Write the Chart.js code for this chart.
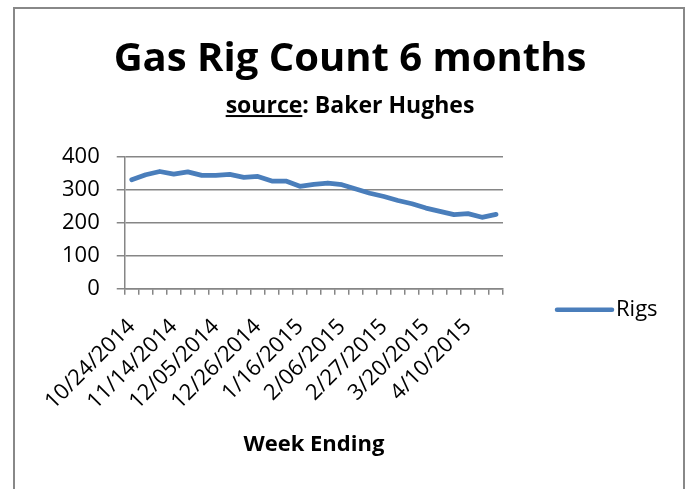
<!DOCTYPE html>
<html>
<head>
<meta charset="utf-8">
<script src="https://cdn.jsdelivr.net/npm/chart.js@4/dist/chart.umd.min.js"></script>
<style>
  html, body { margin: 0; padding: 0; background: #ffffff; }
  #wrap { position: relative; width: 688px; height: 489px; overflow: hidden; }
  #frame { position: absolute; left: 13px; top: 7px; width: 672px; height: 520px; border: 2px solid #888888; box-sizing: border-box; }
  canvas { position: absolute; left: 0; top: 0; }
</style>
</head>
<body>
<div id="wrap">
  <div id="frame"></div>
  <canvas id="c" width="688" height="489"></canvas>
</div>
<script>
const chartTitle = "Gas Rig Count 6 months";
const subtitleSource = "source";
const subtitleRest = ": Baker Hughes";
const xAxisTitle = "Week Ending";
const seriesName = "Rigs";

const weekEnding = [
  "10/24/2014", "10/31/2014", "11/07/2014", "11/14/2014", "11/21/2014", "11/28/2014",
  "12/05/2014", "12/12/2014", "12/19/2014", "12/26/2014", "1/02/2015", "1/09/2015",
  "1/16/2015", "1/23/2015", "1/30/2015", "2/06/2015", "2/13/2015", "2/20/2015",
  "2/27/2015", "3/06/2015", "3/13/2015", "3/20/2015", "3/27/2015", "4/03/2015",
  "4/10/2015", "4/17/2015", "4/24/2015"
];
const rigs = [
  331, 346, 356, 348, 355, 344,
  344, 347, 338, 341, 327, 327,
  311, 317, 321, 316, 303, 290,
  280, 268, 258, 245, 235, 225,
  228, 217, 226
];
const yTicks = [0, 100, 200, 300, 400];

const FONT = "'Open Sans', sans-serif";
const GRID = "#868686";
const LINE = "#4A7EBB";

const decor = {
  id: 'decor',
  afterLayout(chart) {
    // centre the title blocks on the whole framed chart, like the original
    chart.boxes.forEach(b => {
      if (b.position === 'top') {
        b.left = 12; b.right = 688; b.width = 676;
      }
    });
  },
  afterDraw(chart) {
    const ctx = chart.ctx;
    const ca = chart.chartArea;
    ctx.save();
    // underline "source" in the subtitle
    const sub = chart.boxes.find(b => b.options && b.options.text === subtitleSource + subtitleRest);
    if (sub) {
      const f = chart.options.plugins.subtitle.font;
      ctx.font = "bold " + f.size + "px " + FONT;
      ctx.textBaseline = 'middle';
      const full = ctx.measureText(subtitleSource + subtitleRest).width;
      const m = ctx.measureText(subtitleSource);
      const pad = chart.options.plugins.subtitle.padding;
      const midY = sub.top + pad.top + f.size * 1.2 / 2;
      const sx = (sub.left + sub.right) / 2 - full / 2;
      ctx.fillStyle = '#000';
      ctx.fillRect(sx, midY + m.actualBoundingBoxDescent + 2, m.width, 2);
    }
    // legend
    const ds = chart.data.datasets[0];
    const ly = ca.bottom + 21;
    const lx = ca.right + 54;
    ctx.strokeStyle = ds.borderColor;
    ctx.lineWidth = 4.5;
    ctx.lineCap = 'round';
    ctx.beginPath();
    ctx.moveTo(lx, ly);
    ctx.lineTo(lx + 55, ly);
    ctx.stroke();
    ctx.fillStyle = '#000';
    ctx.font = "22px " + FONT;
    ctx.textAlign = 'left';
    ctx.textBaseline = 'middle';
    ctx.fillText(ds.label, lx + 59, ly);
    ctx.restore();
  }
};

new Chart(document.getElementById('c'), {
  type: 'line',
  data: {
    labels: weekEnding,
    datasets: [{
      label: seriesName,
      data: rigs,
      borderColor: LINE,
      backgroundColor: LINE,
      borderWidth: 4.8,
      pointRadius: 0,
      pointHoverRadius: 0,
      tension: 0,
      borderCapStyle: 'round',
      borderJoinStyle: 'round',
      fill: false
    }]
  },
  options: {
    responsive: false,
    animation: false,
    events: [],
    layout: { padding: { top: 0, left: 45, right: 185, bottom: 33 } },
    plugins: {
      legend: { display: false },
      tooltip: { enabled: false },
      title: {
        display: true,
        text: chartTitle,
        color: '#000',
        font: { family: FONT, size: 40, weight: 'bold', lineHeight: 1.2 },
        padding: { top: 36, bottom: 0 }
      },
      subtitle: {
        display: true,
        text: subtitleSource + subtitleRest,
        color: '#000',
        font: { family: FONT, size: 23, weight: 'bold', lineHeight: 1.2 },
        padding: { top: 8.7, bottom: 36.7 }
      }
    },
    scales: {
      x: {
        type: 'category',
        offset: true,
        grid: {
          offset: true,
          drawOnChartArea: false,
          drawTicks: true,
          tickLength: 6,
          color: GRID,
          lineWidth: 1.5
        },
        border: { display: true, color: GRID, width: 1.5 },
        ticks: {
          autoSkip: false,
          maxRotation: 45,
          minRotation: 45,
          padding: 19,
          color: '#000',
          font: { family: FONT, size: 22 },
          callback: function(value, index) {
            return index % 3 === 0 ? weekEnding[index] : '';
          }
        },
        title: {
          display: true,
          text: xAxisTitle,
          color: '#000',
          font: { family: FONT, size: 22, weight: 'bold', lineHeight: 1.0 },
          padding: { top: 0, bottom: 0 }
        }
      },
      y: {
        min: yTicks[0],
        max: yTicks[yTicks.length - 1],
        grid: {
          drawTicks: true,
          tickLength: 8,
          color: GRID,
          lineWidth: 1.5
        },
        border: { display: true, color: GRID, width: 1.5 },
        afterBuildTicks: function(axis) {
          axis.ticks = yTicks.map(v => ({ value: v }));
        },
        ticks: {
          autoSkip: false,
          padding: 17,
          color: '#000',
          font: { family: FONT, size: 22, lineHeight: 1.0 }
        }
      }
    }
  },
  plugins: [decor]
});
</script>
</body>
</html>
